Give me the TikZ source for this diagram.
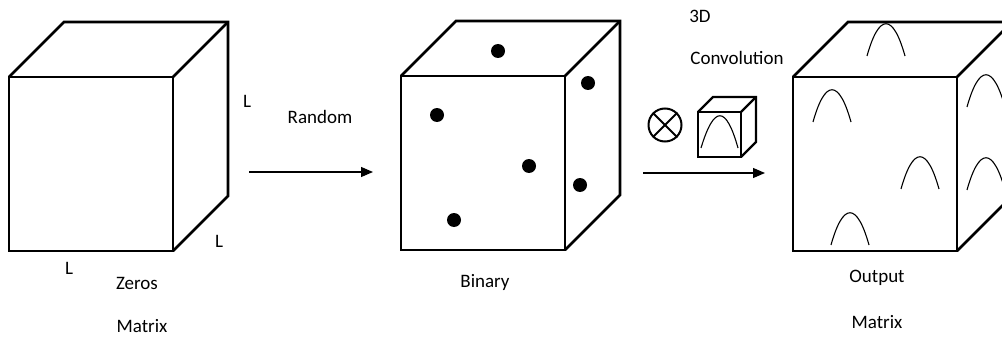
\documentclass[tikz,border=0pt]{standalone}
\usepackage{fontspec}
\setmainfont{Carlito}
\usetikzlibrary{arrows.meta}
\tikzset{
  cubeline/.style={line width=2.6pt, line join=miter},
  bellline/.style={line width=1.1pt},
  flowarrow/.style={line width=1.2pt, -{Triangle[length=12pt,width=10pt]}},
  lbl/.style={font=\fontsize{19}{22}\selectfont, inner sep=0pt, anchor=center},
  dot/.style={circle, fill=black, inner sep=0pt, minimum size=14pt},
  bell/.pic={\draw[bellline] (-19,0) .. controls (-7,-43) and (7,-43) .. (19,0);},
  bigcube/.pic={
    \draw[cubeline] (0,0) rectangle (164,-174);
    \draw[cubeline] (0,-174) -- (55,-229) -- (219,-229) -- (219,-55) -- (164,0);
    \draw[cubeline] (164,-174) -- (219,-229);
  },
}
\begin{document}
\begin{tikzpicture}[x=1pt,y=-1pt]
\useasboundingbox (0,0) rectangle (1002,337);
\clip (0,0) rectangle (1002,337);
% cubes
\pic at (9,251) {bigcube};
\pic at (401,250) {bigcube};
\pic at (793,251) {bigcube};
% labels cube 1
\node[lbl] (l1) at (247,101) {L};
\node[lbl] (l2) at (219,241) {L};
\node[lbl] (l3) at (69,268) {L};
\node[lbl] (zeros) at (137,283) {Zeros};
\node[lbl] (zm) at (142,326) {Matrix};
\node[lbl] (random) at (320,117) {Random};
\coordinate (a1s) at (249,172);
\coordinate (a1e) at (373,172);
\draw[flowarrow] (a1s) -- (a1e);
% dots cube 2
\node[dot] (d1) at (498,51) {};
\node[dot] (d2) at (588,83) {};
\node[dot] (d3) at (437,115) {};
\node[dot] (d4) at (529,166) {};
\node[dot] (d5) at (580,185) {};
\node[dot] (d6) at (454,220) {};
\node[lbl] (binary) at (485,282) {Binary};
% convolution
\node[lbl] (t3d) at (700,16) {3D};
\node[lbl] (conv) at (737,58) {Convolution};
\node[circle, draw, line width=2pt, minimum size=33pt, inner sep=0pt] (otimes) at (665,125) {};
\draw[line width=2pt] (otimes.north west) -- (otimes.south east);
\draw[line width=2pt] (otimes.north east) -- (otimes.south west);
% small cube
\draw[line width=2.4pt, line join=miter] (698,112) rectangle (741,157);
\draw[line width=2.4pt, line join=miter] (698,112) -- (713,97) -- (756,97) -- (756,142) -- (741,157);
\draw[line width=2.4pt] (741,112) -- (756,97);
\draw[bellline] (701,148) .. controls (714,105) and (726,105) .. (738,148);
\coordinate (a2s) at (643,173);
\coordinate (a2e) at (765,173);
\draw[flowarrow] (a2s) -- (a2e);
% bells cube 3
\pic at (886,56) {bell};
\pic at (832,122) {bell};
\pic at (920,189) {bell};
\pic at (850,245) {bell};
\pic at (986,107) {bell};
\pic at (986,190) {bell};
\node[lbl] (output) at (877,278) {Output};
\node[lbl] (om) at (877,322) {Matrix};
\end{tikzpicture}
\end{document}
